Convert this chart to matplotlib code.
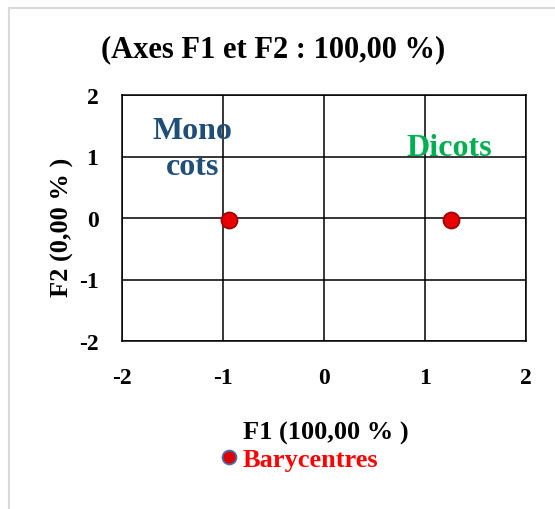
import matplotlib
matplotlib.use("Agg")
import matplotlib.pyplot as plt
from matplotlib.patches import Rectangle

# barycentres on the F1 / F2 plane
groups = ["Mono\ncots", "Dicots"]
f1 = [-0.94, 1.26]
f2 = [-0.04, -0.04]
label_pos = [(-1.30, 1.30), (1.24, 1.02)]
label_colors = ["#1F4E79", "#00B050"]
ticks = [-2, -1, 0, 1, 2]

plt.rcParams['font.family'] = ['Liberation Serif', 'DejaVu Serif']
plt.rcParams['font.weight'] = 'bold'
plt.rcParams['axes.unicode_minus'] = False

fig = plt.figure(figsize=(5.55, 5.10), dpi=100)
fig.patches.append(Rectangle((9 / 555, -0.1), 1.2, 1.1 - 9 / 510,
                             transform=fig.transFigure, fill=False,
                             edgecolor='#D9D9D9', linewidth=1.5))

ax = fig.add_axes([122 / 555, 1 - 342 / 510, 404 / 555, 246 / 510])
ax.set_xlim(-2, 2)
ax.set_ylim(-2, 2)
ax.set_xticks(ticks)
ax.set_yticks(ticks)
ax.grid(True, color='black', linewidth=1.1)
ax.set_axisbelow(True)
for s in ax.spines.values():
    s.set_color('black')
    s.set_linewidth(1.1)
ax.tick_params(length=0, labelsize=17)
ax.tick_params(axis='x', pad=19)
ax.tick_params(axis='y', pad=17)
for lab in ax.get_xticklabels() + ax.get_yticklabels():
    lab.set_fontweight('bold')

ax.plot(f1, f2, linestyle='none', marker='o', markersize=11.5,
        markerfacecolor='#E80000', markeredgecolor='#A00000',
        markeredgewidth=1.3, label='Barycentres', zorder=3)

# group names, one line at a time
for name, (x, y), c in zip(groups, label_pos, label_colors):
    for i, line in enumerate(name.split("\n")):
        ax.text(x, y - 0.585 * i, line, color=c, fontsize=23,
                fontweight='bold', ha='center', va='baseline')

fig.text(273 / 555, 1 - 50 / 510, "(Axes F1 et F2 : 100,00 %)",
         fontsize=22, fontweight='bold', ha='center', va='center')
ax.set_xlabel("F1 (100,00 % )", fontsize=19, fontweight='bold')
ax.xaxis.label.set_va('center')
ax.xaxis.set_label_coords(0.504, -(433 - 342) / 246)
ax.set_ylabel("F2 (0,00 % )", fontsize=19, fontweight='bold')
ax.yaxis.label.set_va('center')
ax.yaxis.set_label_coords((62 - 122) / 404, (342 - 227) / 246)

h = ax.plot([], [], linestyle='none', marker='o', markersize=10,
            markerfacecolor='#DD0000', markeredgecolor='#4A6FA5',
            markeredgewidth=1.3)[0]
leg = fig.legend([h], ['Barycentres'], loc='center',
                 bbox_to_anchor=(297 / 555, 1 - 460 / 510), frameon=False,
                 fontsize=19, handletextpad=0.0, handlelength=1.0)
for t in leg.get_texts():
    t.set_color('#FF0000')
    t.set_fontweight('bold')

fig.savefig("out.png", dpi=100)
